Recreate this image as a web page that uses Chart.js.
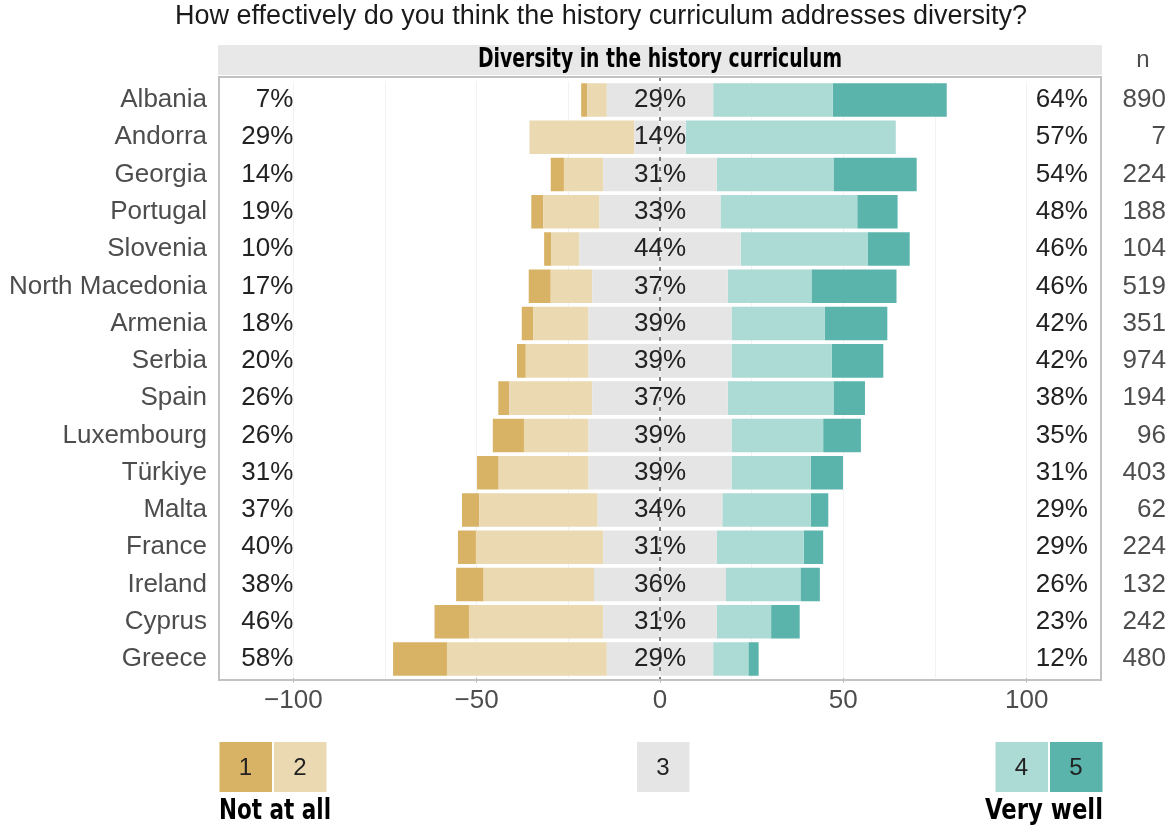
<!DOCTYPE html>
<html>
<head>
<meta charset="utf-8">
<script src="https://cdn.jsdelivr.net/npm/chart.js@4.4.1/dist/chart.umd.min.js"></script>
<style>
  body { margin: 0; background: #fff; }
  #wrap { width: 1170px; height: 825px; }
</style>
</head>
<body>
<div id="wrap"><canvas id="diversityChart"></canvas></div>
<script>
// survey answers per country, share of respondents (%)
const countries = ['Albania', 'Andorra', 'Georgia', 'Portugal', 'Slovenia', 'North Macedonia', 'Armenia', 'Serbia',
  'Spain', 'Luxembourg', 'Türkiye', 'Malta', 'France', 'Ireland', 'Cyprus', 'Greece'];
const pct1 = [1.7, 0, 3.6, 3.3, 2.0, 6.0, 3.1, 2.4, 3.0, 8.5, 5.9, 4.7, 4.9, 7.5, 9.4, 14.7];
const pct2 = [5.3, 28.6, 10.7, 15.3, 7.6, 11.3, 15.1, 17.1, 22.6, 17.6, 24.5, 32.3, 34.7, 30.1, 36.6, 43.6];
const pct3 = [29, 14, 31, 33, 44, 37, 39, 39, 37, 39, 39, 34, 31, 36, 31, 29];
const pct4 = [32.6, 57.3, 31.8, 37.3, 34.6, 22.8, 25.4, 27.3, 28.8, 25.0, 21.6, 24.1, 23.7, 20.3, 14.8, 9.6];
const pct5 = [31.1, 0, 22.7, 11.0, 11.5, 23.2, 17.1, 14.1, 8.6, 10.3, 8.8, 4.8, 5.3, 5.3, 7.8, 2.8];

// printed labels
const lowLabels = [7, 29, 14, 19, 10, 17, 18, 20, 26, 26, 31, 37, 40, 38, 46, 58];
const midLabels = [29, 14, 31, 33, 44, 37, 39, 39, 37, 39, 39, 34, 31, 36, 31, 29];
const highLabels = [64, 57, 54, 48, 46, 46, 42, 42, 38, 35, 31, 29, 29, 26, 23, 12];
const nValues = [890, 7, 224, 188, 104, 519, 351, 974, 194, 96, 403, 62, 224, 132, 242, 480];

const gridTicks = [-100, -75, -50, -25, 0, 25, 50, 75, 100];
const legendNames = ['1', '2', '3', '4', '5'];

const colors = ['#d8b365', '#ebd9b2', '#e5e5e5', '#acdad5', '#5ab4ac'];
const FONT = "'Liberation Sans', Arial, sans-serif";
const NARROW = "'Liberation Sans Narrow', 'DejaVu Sans Condensed', sans-serif";

Chart.defaults.font.family = FONT;

function minus(v) {
    return v < 0 ? '\u2212' + Math.abs(v) : String(v);
}

// condensed bold text: squeeze horizontally to the width it has in the picture
function squeezedText(ctx, text, x, y, width, align) {
    const w = ctx.measureText(text).width;
    const k = Math.min(1, width / w);
    ctx.save();
    ctx.translate(x, y);
    ctx.scale(k, 1);
    ctx.textAlign = align;
    ctx.fillText(text, 0, 0);
    ctx.restore();
}

const overlay = {
    id: 'overlay',
    beforeDraw(chart) {
        const ctx = chart.ctx;
        const area = chart.chartArea;
        ctx.save();
        // title
        ctx.fillStyle = '#1a1a1a';
        ctx.font = '27px ' + FONT;
        ctx.textAlign = 'center';
        ctx.textBaseline = 'middle';
        ctx.fillText('How effectively do you think the history curriculum addresses diversity?', 601, 17);
        // strip header
        ctx.fillStyle = '#e8e8e8';
        ctx.fillRect(area.left - 2, 45, area.right - area.left + 4, 30);
        ctx.fillStyle = '#000';
        ctx.font = 'bold 26px ' + NARROW;
        squeezedText(ctx, 'Diversity in the history curriculum', (area.left + area.right) / 2, 60, 364, 'center');
        ctx.fillStyle = '#4d4d4d';
        ctx.font = '24px ' + FONT;
        ctx.fillText('n', 1143, 60);
        ctx.restore();
    },
    afterDatasetsDraw(chart) {
        const ctx = chart.ctx;
        const x = chart.scales.x;
        const y = chart.scales.y;
        const area = chart.chartArea;
        const top = area.top - 4.4;
        const bottom = area.bottom + 2.4;
        ctx.save();
        // dashed zero line
        ctx.strokeStyle = '#555';
        ctx.lineWidth = 1.5;
        ctx.setLineDash([4, 6]);
        ctx.beginPath();
        ctx.moveTo(x.getPixelForValue(0), top);
        ctx.lineTo(x.getPixelForValue(0), bottom);
        ctx.stroke();
        ctx.setLineDash([]);

        ctx.textBaseline = 'middle';
        ctx.font = '26px ' + FONT;
        countries.forEach((c, i) => {
            const py = y.getPixelForValue(i);
            ctx.fillStyle = '#222';
            ctx.textAlign = 'right';
            ctx.fillText(lowLabels[i] + '%', x.getPixelForValue(-100), py);
            ctx.textAlign = 'center';
            ctx.fillText(midLabels[i] + '%', x.getPixelForValue(0), py);
            ctx.textAlign = 'left';
            ctx.fillText(highLabels[i] + '%', x.getPixelForValue(102.5), py);
            ctx.fillStyle = '#4d4d4d';
            ctx.textAlign = 'right';
            ctx.fillText(String(nValues[i]), 1166, py);
        });

        // panel border
        ctx.strokeStyle = '#c2c2c2';
        ctx.lineWidth = 2;
        ctx.strokeRect(area.left - 1, top, area.right - area.left + 2, bottom - top);
        ctx.restore();
    },
    afterDraw(chart) {
        const ctx = chart.ctx;
        const boxes = [219.5, 274, 637, 995.5, 1050];
        ctx.save();
        ctx.textAlign = 'center';
        ctx.textBaseline = 'middle';
        legendNames.forEach((name, i) => {
            ctx.fillStyle = colors[i];
            ctx.fillRect(boxes[i], 742, 52.5, 50);
            ctx.fillStyle = '#222';
            ctx.font = '24px ' + FONT;
            ctx.fillText(name, boxes[i] + 26, 768);
        });
        ctx.fillStyle = '#000';
        ctx.font = 'bold 28px ' + NARROW;
        squeezedText(ctx, 'Not at all', 219, 812, 112, 'left');
        squeezedText(ctx, 'Very well', 1103, 812, 118, 'right');
        ctx.restore();
    }
};

const ctx = document.getElementById('diversityChart').getContext('2d');
new Chart(ctx, {
    type: 'bar',
    data: {
        labels: countries,
        datasets: [
            { label: '3', data: pct3.map(v => -v / 2), backgroundColor: colors[2] },
            { label: '2', data: pct2.map(v => -v), backgroundColor: colors[1] },
            { label: '1', data: pct1.map(v => -v), backgroundColor: colors[0] },
            { label: '3', data: pct3.map(v => v / 2), backgroundColor: colors[2] },
            { label: '4', data: pct4, backgroundColor: colors[3] },
            { label: '5', data: pct5, backgroundColor: colors[4] }
        ]
    },
    options: {
        indexAxis: 'y',
        responsive: true,
        maintainAspectRatio: false,
        animation: false,
        datasets: {
            bar: { barPercentage: 0.9, categoryPercentage: 1, borderWidth: 0 }
        },
        layout: { padding: { top: 81.4, right: 70, bottom: 87.4, left: 0 } },
        plugins: {
            legend: { display: false },
            tooltip: { enabled: false }
        },
        scales: {
            x: {
                stacked: true,
                min: -120,
                max: 120,
                afterBuildTicks: scale => { scale.ticks = gridTicks.map(v => ({ value: v })); },
                afterFit: scale => { scale.height = 60; },
                grid: {
                    color: '#f2f2f2',
                    tickLength: 5,
                    tickColor: c => (c.tick && c.tick.value % 50 === 0) ? '#b0b0b0' : 'rgba(0,0,0,0)'
                },
                border: { display: false },
                ticks: {
                    padding: 3,
                    color: '#4d4d4d',
                    font: { size: 26 },
                    maxRotation: 0,
                    callback: v => (v % 50 === 0 ? minus(v) : '')
                }
            },
            y: {
                stacked: true,
                afterFit: scale => { scale.width = 220; },
                grid: { display: false, drawTicks: false },
                border: { display: false },
                ticks: { padding: 13, color: '#4d4d4d', font: { size: 26 } }
            }
        }
    },
    plugins: [overlay]
});
</script>
</body>
</html>
